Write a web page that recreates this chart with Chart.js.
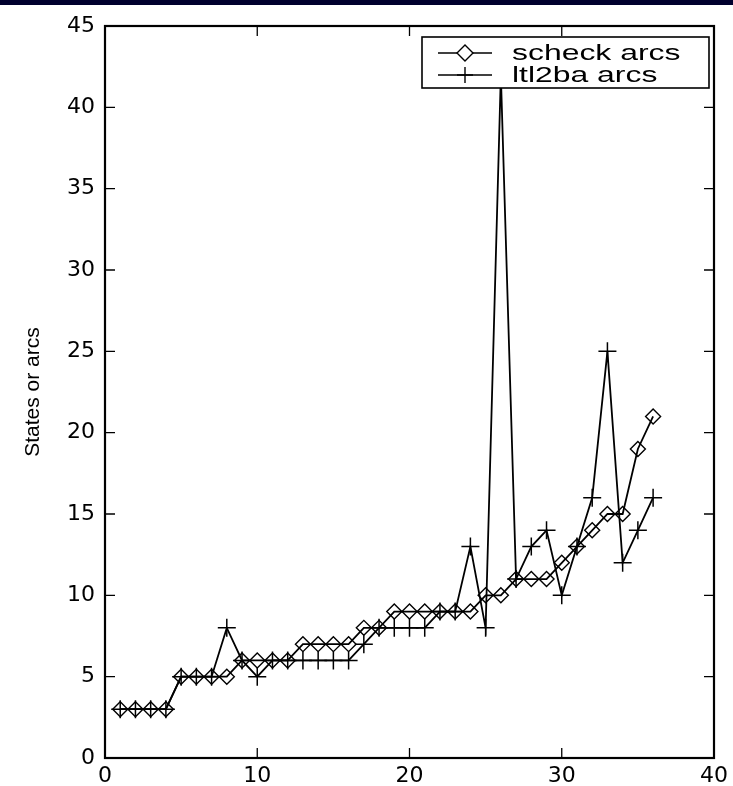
<!DOCTYPE html>
<html>
<head>
<meta charset="utf-8">
<script src="https://cdn.jsdelivr.net/npm/chart.js@4.4.0/dist/chart.umd.min.js"></script>
<style>
  body { margin: 0; background: #fff; }
  #wrap { position: relative; width: 733px; height: 786px; }
  #topbar { position: absolute; left: 0; top: 0; width: 733px; height: 5px; background: #00002e; }
  canvas { position: absolute; left: 0; top: 0; }
</style>
</head>
<body>
<div id="wrap">
  <canvas id="arcs-chart" width="733" height="786"></canvas>
  <div id="topbar"></div>
</div>
<script>
// problem index on the x axis
var problems = [1, 2, 3, 4, 5, 6, 7, 8, 9, 10, 11, 12, 13, 14, 15, 16, 17, 18,
                19, 20, 21, 22, 23, 24, 25, 26, 27, 28, 29, 30, 31, 32, 33, 34, 35, 36];
var scheckArcs = [3, 3, 3, 3, 5, 5, 5, 5, 6, 6, 6, 6, 7, 7, 7, 7, 8, 8,
                  9, 9, 9, 9, 9, 9, 10, 10, 11, 11, 11, 12, 13, 14, 15, 15, 19, 21];
var ltl2baArcs = [3, 3, 3, 3, 5, 5, 5, 8, 6, 5, 6, 6, 6, 6, 6, 6, 7, 8,
                  8, 8, 8, 9, 9, 13, 8, 42, 11, 13, 14, 10, 13, 16, 25, 12, 14, 16];
var seriesNames = ['scheck arcs', 'ltl2ba arcs'];
var xTicks = [0, 10, 20, 30, 40];
var yTicks = [0, 5, 10, 15, 20, 25, 30, 35, 40, 45];

function toPoints(values) {
    return problems.map(function (x, i) {
        return { x: x, y: values[i] };
    });
}

// MATLAB style frame: box round the plot with ticks pointing inwards
var framePlugin = {
    id: 'frame',
    afterDatasetsDraw: function (chart) {
        var ctx = chart.ctx;
        var a = chart.chartArea;
        var xs = chart.scales.x, ys = chart.scales.y;
        var len = 10;
        ctx.save();
        ctx.strokeStyle = '#000';
        ctx.lineWidth = 2.2;
        ctx.strokeRect(a.left, a.top, a.right - a.left, a.bottom - a.top);
        ctx.lineWidth = 1.3;
        ctx.beginPath();
        xTicks.forEach(function (v) {
            var px = xs.getPixelForValue(v);
            ctx.moveTo(px, a.bottom); ctx.lineTo(px, a.bottom - len);
            ctx.moveTo(px, a.top); ctx.lineTo(px, a.top + len);
        });
        yTicks.forEach(function (v) {
            var py = ys.getPixelForValue(v);
            ctx.moveTo(a.left, py); ctx.lineTo(a.left + len, py);
            ctx.moveTo(a.right, py); ctx.lineTo(a.right - len, py);
        });
        ctx.stroke();
        ctx.restore();
    }
};

// legend box in the top right corner, line sample with marker
var legendPlugin = {
    id: 'boxLegend',
    afterDraw: function (chart) {
        var ctx = chart.ctx;
        var a = chart.chartArea;
        var right = a.right - 5, top = a.top + 11;
        var left = right - 287, height = 51;
        ctx.save();
        ctx.fillStyle = '#fff';
        ctx.fillRect(left, top, right - left, height);
        ctx.strokeStyle = '#000';
        ctx.lineWidth = 1.6;
        ctx.strokeRect(left, top, right - left, height);
        chart.data.datasets.forEach(function (ds, i) {
            var y = top + 16 + i * 22;
            ctx.strokeStyle = '#000';
            ctx.lineWidth = 1.4;
            ctx.beginPath();
            ctx.moveTo(left + 16, y);
            ctx.lineTo(left + 70, y);
            ctx.stroke();
            Chart.helpers.drawPoint(ctx, {
                pointStyle: ds.pointStyle,
                radius: 8,
                borderWidth: 1.4,
                rotation: 0
            }, left + 43, y);
            ctx.save();
            ctx.translate(left + 90, y + 1);
            ctx.scale(1.45, 1);
            ctx.fillStyle = '#000';
            ctx.font = '22px "Liberation Sans", Arial, sans-serif';
            ctx.textBaseline = 'middle';
            ctx.fillText(ds.label, 0, 0);
            ctx.restore();
        });
        ctx.restore();
    }
};

var ctx = document.getElementById('arcs-chart').getContext('2d');
var config = {
    type: 'line',
    data: {
        datasets: [{
            label: seriesNames[0],
            data: toPoints(scheckArcs),
            borderColor: '#000',
            borderWidth: 1.8,
            pointStyle: 'rectRot',
            pointRadius: 7.5,
            pointBorderWidth: 1.4,
            pointBorderColor: '#000',
            pointBackgroundColor: 'rgba(0,0,0,0)',
            tension: 0,
            order: 1
        }, {
            label: seriesNames[1],
            data: toPoints(ltl2baArcs),
            borderColor: '#000',
            borderWidth: 1.8,
            pointStyle: 'cross',
            pointRadius: 9,
            pointBorderWidth: 1.5,
            pointBorderColor: '#000',
            pointBackgroundColor: 'rgba(0,0,0,0)',
            tension: 0,
            order: 0
        }]
    },
    options: {
        responsive: false,
        animation: false,
        devicePixelRatio: 1,
        layout: { padding: { top: 26, right: 19, left: 0, bottom: 0 } },
        plugins: {
            legend: { display: false },
            tooltip: { enabled: false }
        },
        scales: {
            x: {
                type: 'linear',
                min: 0,
                max: 40,
                afterBuildTicks: function (scale) {
                    scale.ticks = xTicks.map(function (v) { return { value: v }; });
                },
                afterFit: function (scale) { scale.height = 28; },
                grid: { display: false, drawTicks: false },
                border: { display: false },
                ticks: {
                    color: '#000',
                    padding: 5,
                    maxRotation: 0,
                    font: { family: '"DejaVu Sans", sans-serif', size: 22 }
                }
            },
            y: {
                type: 'linear',
                min: 0,
                max: 45,
                afterBuildTicks: function (scale) {
                    scale.ticks = yTicks.map(function (v) { return { value: v }; });
                },
                afterFit: function (scale) { scale.width = 105; },
                grid: { display: false, drawTicks: false },
                border: { display: false },
                ticks: {
                    color: '#000',
                    padding: 10,
                    font: { family: '"DejaVu Sans", sans-serif', size: 22 }
                },
                title: {
                    display: true,
                    text: 'States or arcs',
                    color: '#000',
                    padding: { top: 21, bottom: 0 },
                    font: { family: '"Liberation Sans Narrow", "Liberation Sans", sans-serif', size: 21 }
                }
            }
        }
    },
    plugins: [framePlugin, legendPlugin]
};

var chart = new Chart(ctx, config);
</script>
</body>
</html>
